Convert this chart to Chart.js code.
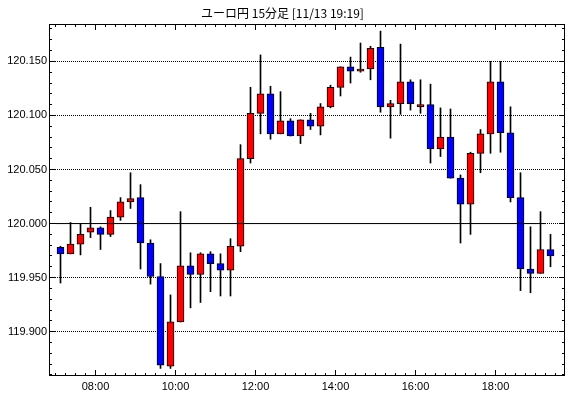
<!DOCTYPE html>
<html>
<head>
<meta charset="utf-8">
<script src="https://cdn.jsdelivr.net/npm/chart.js@4/dist/chart.umd.min.js"></script>
<style>
  html, body { margin: 0; padding: 0; background: #fff; }
  #wrap { width: 570px; height: 398px; }
</style>
</head>
<body>
<div id="wrap"><canvas id="candles"></canvas></div>
<script>
// EUR/JPY 15 minute candles, 11/13
const times = [
    '07:00','07:15','07:30','07:45','08:00','08:15','08:30','08:45','09:00','09:15',
    '09:30','09:45','10:00','10:15','10:30','10:45','11:00','11:15','11:30','11:45',
    '12:00','12:15','12:30','12:45','13:00','13:15','13:30','13:45','14:00','14:15',
    '14:30','14:45','15:00','15:15','15:30','15:45','16:00','16:15','16:30','16:45',
    '17:00','17:15','17:30','17:45','18:00','18:15','18:30','18:45','19:00','19:15'
];
const opens = [
    119.978,119.972,119.981,119.992,119.996,119.990,120.006,120.020,120.024,119.982,
    119.951,119.868,119.909,119.961,119.953,119.972,119.963,119.957,119.979,120.060,
    120.102,120.120,120.083,120.095,120.081,120.096,120.090,120.108,120.126,120.145,
    120.141,120.143,120.163,120.108,120.111,120.131,120.108,120.110,120.069,120.080,
    120.042,120.018,120.065,120.083,120.131,120.084,120.024,119.958,119.954,119.976
];
const highs = [
    119.979,120.001,120.000,120.015,119.997,120.012,120.024,120.047,120.036,119.985,
    119.963,119.934,120.011,119.973,119.973,119.974,119.972,119.986,120.073,120.126,
    120.156,120.127,120.122,120.097,120.096,120.102,120.111,120.128,120.145,120.154,
    120.167,120.164,120.178,120.114,120.166,120.133,120.133,120.129,120.107,120.106,
    120.045,120.066,120.087,120.150,120.150,120.108,120.047,119.997,120.011,119.990
];
const lows = [
    119.945,119.972,119.971,119.987,119.976,119.988,120.003,120.014,119.958,119.944,
    119.866,119.866,119.909,119.922,119.927,119.937,119.933,119.933,119.974,120.056,
    120.083,120.078,120.083,120.081,120.074,120.087,120.082,120.107,120.118,120.130,
    120.140,120.133,120.103,120.079,120.101,120.105,120.102,120.056,120.062,120.042,
    119.982,119.990,120.047,120.065,120.066,120.020,119.938,119.936,119.954,119.960
];
const closes = [
    119.972,119.981,119.990,119.996,119.990,120.006,120.020,120.023,119.982,119.951,
    119.869,119.909,119.961,119.953,119.972,119.963,119.957,119.979,120.060,120.102,
    120.120,120.083,120.095,120.081,120.096,120.090,120.108,120.126,120.145,120.141,
    120.143,120.162,120.108,120.111,120.131,120.111,120.110,120.069,120.080,120.042,
    120.018,120.065,120.083,120.131,120.084,120.024,119.958,119.954,119.976,119.970
];
const yTicks = [119.900, 119.950, 120.000, 120.050, 120.100, 120.150];
const xTicks = ['08:00', '10:00', '12:00', '14:00', '16:00', '18:00'];
const refLevel = 120.000;
const refFrom = '07:00';
const refTo = '19:15';
const title = 'ユーロ円 15分足 [11/13 19:19]';

const toHours = s => { const [h, m] = s.split(':').map(Number); return h + m / 60; };
const mid = s => toHours(s) + 7.5 / 60; // candle drawn in middle of its 15 min

const UP = '#ff0000';
const DOWN = '#0000ff';

// frame box + inward tick marks on all four sides
const frameTicks = {
    id: 'frameTicks',
    afterDraw(chart) {
        const { ctx, chartArea: a, scales: { x, y } } = chart;
        ctx.save();
        ctx.strokeStyle = '#000';
        ctx.lineWidth = 1;
        ctx.beginPath();
        for (let m = 7 * 60; m <= x.max * 60; m += 15) {
            const px = Math.floor(x.getPixelForValue(m / 60)) + 0.5;
            const len = m % 120 === 0 ? 6 : 3;
            ctx.moveTo(px, a.bottom); ctx.lineTo(px, a.bottom - len);
            ctx.moveTo(px, a.top); ctx.lineTo(px, a.top + len);
        }
        for (let c = Math.ceil(y.min * 100); c <= Math.floor(y.max * 100); c++) {
            const py = Math.floor(y.getPixelForValue(c / 100)) + 0.5;
            const len = c % 5 === 0 ? 6 : 3;
            ctx.moveTo(a.left, py); ctx.lineTo(a.left + len, py);
            ctx.moveTo(a.right, py); ctx.lineTo(a.right - len, py);
        }
        ctx.stroke();
        ctx.strokeRect(a.left + 0.5, a.top + 0.5, a.width - 1, a.height - 1);
        ctx.restore();
    }
};

Chart.defaults.font.family = "'Liberation Sans', Arial, sans-serif";
Chart.defaults.font.size = 11;
Chart.defaults.color = '#000';

new Chart(document.getElementById('candles'), {
    type: 'bar',
    data: {
        datasets: [
            {
                label: 'refLine',
                type: 'line',
                order: 1,
                data: [{ x: toHours(refFrom), y: refLevel }, { x: toHours(refTo), y: refLevel }],
                borderColor: '#000',
                borderWidth: 1,
                pointRadius: 0
            },
            {
                label: 'body',
                order: 2,
                grouped: false,
                data: times.map((t, i) => ({ x: mid(t), y: [opens[i], closes[i]] })),
                backgroundColor: times.map((t, i) => closes[i] >= opens[i] ? UP : DOWN),
                borderColor: '#000',
                borderWidth: 1,
                borderSkipped: false,
                barThickness: 7
            },
            {
                label: 'wick',
                order: 3,
                grouped: false,
                data: times.map((t, i) => ({ x: mid(t), y: [lows[i], highs[i]] })),
                backgroundColor: '#000',
                borderWidth: 0,
                barThickness: 1
            }
        ]
    },
    options: {
        responsive: true,
        maintainAspectRatio: false,
        animation: false,
        layout: { padding: { left: 0, right: 5, top: 0, bottom: 0 } },
        plugins: {
            legend: { display: false },
            tooltip: { enabled: false },
            title: {
                display: true,
                text: title,
                color: '#000',
                font: { family: "'Noto Sans CJK JP', sans-serif", size: 12, weight: 'normal', lineHeight: 1.2 },
                padding: { top: 6, bottom: 3.6 }
            }
        },
        scales: {
            x: {
                type: 'linear',
                offset: false,
                min: 6.8375,
                max: 19.7375,
                grid: { display: false, drawTicks: false, tickLength: 0 },
                border: { display: false },
                afterBuildTicks: s => { s.ticks = xTicks.map(t => ({ value: toHours(t) })); },
                afterFit: s => { s.height = 22; },
                ticks: {
                    autoSkip: false,
                    maxRotation: 0,
                    padding: 4,
                    callback: v => {
                        const h = Math.floor(v), m = Math.round((v - h) * 60);
                        return String(h).padStart(2, '0') + ':' + String(m).padStart(2, '0');
                    }
                }
            },
            y: {
                type: 'linear',
                min: 119.859,
                max: 120.1846,
                grid: { color: '#000', drawTicks: false },
                border: { display: false, dash: [1, 1] },
                afterBuildTicks: s => { s.ticks = yTicks.map(v => ({ value: v })); },
                afterFit: s => { s.width = 49; },
                ticks: {
                    padding: 2,
                    callback: v => v.toFixed(3)
                }
            }
        }
    },
    plugins: [frameTicks]
});
</script>
</body>
</html>
